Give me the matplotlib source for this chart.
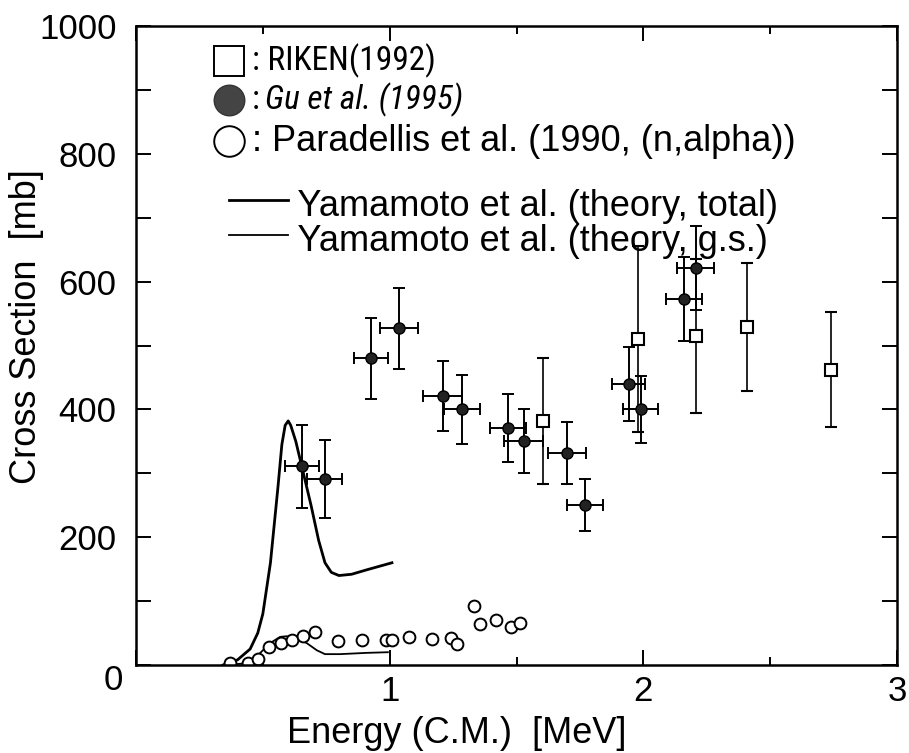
import numpy as np
import matplotlib.pyplot as plt
from matplotlib import font_manager

plt.rcParams['font.family'] = ['Liberation Sans', 'DejaVu Sans']

# RIKEN (1992), open squares with vertical errors
riken_e = [1.605, 1.98, 2.207, 2.41, 2.74]
riken_xs = [382, 510, 515, 529, 462]
riken_err = [99, 146, 120, 100, 90]

# Gu et al. (1995), filled circles with both error bars
gu_e = [0.654, 0.745, 0.926, 1.037, 1.21, 1.285, 1.466, 1.529, 1.70, 1.77, 1.943, 1.99, 2.16, 2.207]
gu_xs = [311, 291, 480, 527, 421, 400, 371, 351, 332, 250, 440, 400, 573, 621]
gu_yerr = [65, 61, 63, 63, 55, 54, 53, 50, 49, 41, 58, 53, 66, 66]
gu_xerr = [0.067, 0.069, 0.067, 0.075, 0.077, 0.071, 0.071, 0.077, 0.075, 0.071, 0.065, 0.069, 0.071, 0.073]

# Paradellis et al. (1990), (n,alpha)
par_e = [0.37, 0.44, 0.48, 0.525, 0.57, 0.615, 0.66, 0.705, 0.795, 0.89, 0.985, 1.01,
         1.076, 1.167, 1.242, 1.265, 1.332, 1.356, 1.419, 1.478, 1.514]
par_xs = [3, 3, 9, 28, 34, 39, 45, 52, 38, 39, 39, 39, 44, 40, 42, 33, 92, 64, 70, 59, 66]

# Yamamoto et al. theory curves
tot_e = [0.343, 0.40, 0.45, 0.48, 0.50, 0.53, 0.56, 0.575, 0.588, 0.60, 0.61, 0.63,
         0.66, 0.69, 0.72, 0.745, 0.77, 0.80, 0.85, 0.91, 1.009]
tot_xs = [0, 8, 25, 50, 80, 160, 280, 345, 375, 382, 375, 350, 300, 250, 195, 160,
          145, 140, 142, 149, 160]
gs_e = [0.36, 0.44, 0.49, 0.528, 0.568, 0.594, 0.635, 0.674, 0.713, 0.745, 0.804, 0.91, 0.993]
gs_xs = [0, 3, 19, 34, 44, 45, 42, 34, 23, 17, 17, 19, 20]

fig = plt.figure(figsize=(9.09, 7.53), dpi=100)
ax = fig.add_axes([136 / 909, 1 - 665 / 753, 761 / 909, 639 / 753])

ax.plot(tot_e, tot_xs, color='black', lw=2.0, solid_joinstyle='round')
ax.plot(gs_e, gs_xs, color='black', lw=1.3)

ax.plot(par_e, par_xs, 'o', mfc='white', mec='black', ms=8.5, mew=1.4)

ax.errorbar(riken_e, riken_xs, yerr=riken_err, fmt='s', mfc='white', mec='black',
            ms=9, mew=1.5, ecolor='black', elinewidth=1.2, capsize=4, capthick=1.2)
ax.errorbar(gu_e, gu_xs, yerr=gu_yerr, xerr=gu_xerr, fmt='o', color='black',
            mfc='#222222', ms=8, ecolor='black', elinewidth=1.4, capsize=4, capthick=1.4)

ax.set_xlim(0, 3)
ax.set_ylim(0, 1000)
ax.set_xticks([0, 1, 2, 3])
ax.set_xticklabels(['', '1', '2', '3'])
ax.set_xticks([0.5, 1.5, 2.5], minor=True)
ax.set_yticks([0, 200, 400, 600, 800, 1000])
ax.set_yticklabels(['', '200', '400', '600', '800', '1000'])
ax.set_yticks([100, 300, 500, 700, 900], minor=True)
ax.tick_params(which='both', direction='in', top=True, right=True, width=1.4,
               labelsize=25)
ax.tick_params(axis='x', which='major', length=11, pad=7)
ax.tick_params(axis='x', which='minor', length=6)
ax.tick_params(axis='y', which='both', length=11, pad=14)
for s in ax.spines.values():
    s.set_linewidth(1.8)

fig.text(123 / 909, 1 - 680 / 753, '0', fontsize=25, ha='right', va='center')

ax.set_xlabel('Energy (C.M.)  [MeV]', fontsize=26, va='top')
ax.xaxis.set_label_coords((457 - 136) / 761, -0.080)
ax.set_ylabel('Cross Section  [mb]', fontsize=26)
ax.yaxis.set_label_coords(-0.121, (665 - 327) / 639)

# the first two key entries are set in a narrower face when one is around
installed = {f.name for f in font_manager.fontManager.ttflist}
narrow = dict(fontsize=21)
for name in ['Liberation Sans Narrow', 'Roboto Condensed', 'Open Sans Condensed']:
    if name in installed:
        narrow = dict(family=[name, 'DejaVu Sans'], fontsize=24)
        break

# key drawn inside the frame
tr = ax.transAxes
fs = 26
ax.plot([0.122], [0.945], 's', transform=tr, ms=22, mfc='white', mec='black', mew=1.4)
ax.text(0.152, 0.945, ': RIKEN(1992)', transform=tr, va='center', **narrow)
ax.plot([0.122], [0.884], 'o', transform=tr, ms=22, mfc='#444444', mec='#333333')
ax.text(0.152, 0.884, ': ', transform=tr, va='center', **narrow)
ax.text(0.170, 0.884, 'Gu et al. (1995)', transform=tr, va='center',
        style='italic', **narrow)
ax.plot([0.122], [0.820], 'o', transform=tr, ms=22, mfc='white', mec='black', mew=1.4)
ax.text(0.152, 0.820, ': Paradellis et al. (1990, (n,alpha))', transform=tr,
        fontsize=fs, va='center')
ax.plot([0.122, 0.200], [0.728, 0.728], transform=tr, color='black', lw=2.0)
ax.text(0.200, 0.718, ' Yamamoto et al. (theory, total)', transform=tr, fontsize=fs,
        va='center')
ax.plot([0.122, 0.200], [0.673, 0.673], transform=tr, color='black', lw=1.3)
ax.text(0.200, 0.663, ' Yamamoto et al. (theory, g.s.)', transform=tr, fontsize=fs,
        va='center')

fig.savefig('out.png', dpi=100)
